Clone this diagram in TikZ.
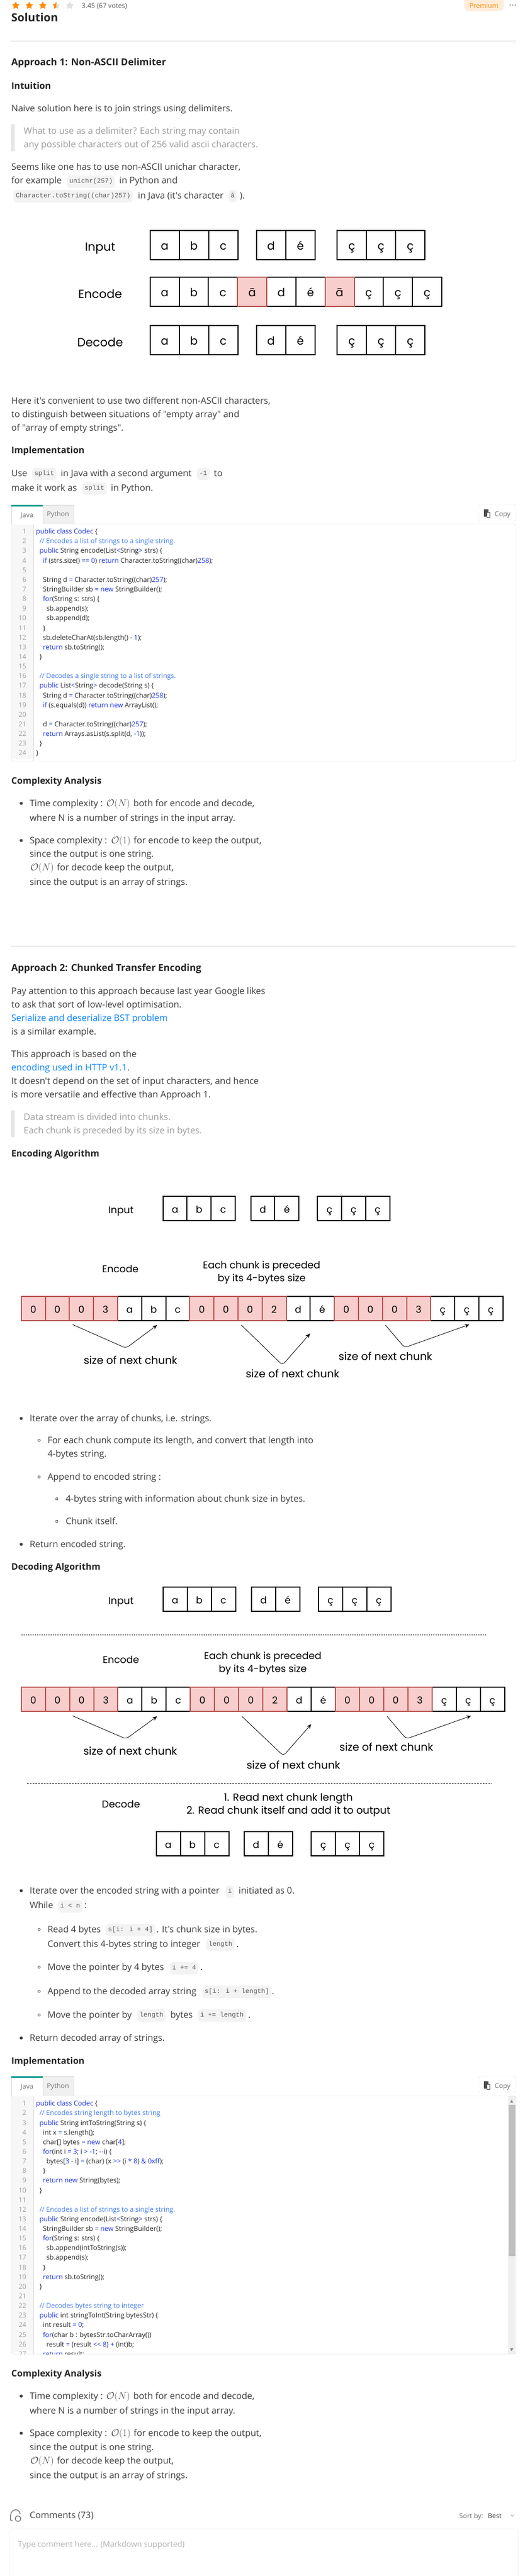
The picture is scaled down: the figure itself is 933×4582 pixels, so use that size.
\documentclass[tikz,border=0pt]{standalone}
\usepackage{fontspec}
\usetikzlibrary{arrows.meta,shapes.geometric}
\newfontfamily\bodyfont{Open Sans}
\newfontfamily\handfont{Poppins}
\newfontfamily\monofont{Liberation Mono}
\definecolor{bodygrey}{HTML}{3C3C3C}
\definecolor{headgrey}{HTML}{262626}
\definecolor{quotegrey}{HTML}{9A9A9A}
\definecolor{linkblue}{HTML}{0A84FF}
\definecolor{rulegrey}{HTML}{EEEEEE}
\definecolor{chipgrey}{HTML}{F3F3F3}
\definecolor{codekw}{HTML}{1C33E8}
\definecolor{codecm}{HTML}{3F7BF0}
\definecolor{numgrey}{HTML}{9E9E9E}
\definecolor{cellred}{HTML}{F8CECC}
\definecolor{edgered}{HTML}{B85450}
\definecolor{tabteal}{HTML}{1D9E94}
\newcommand{\kw}[1]{\textcolor{codekw}{#1}}
\newcommand{\cm}[1]{\textcolor{codecm}{#1}}
\tikzset{
  para/.style={anchor=base west,inner sep=0pt,yshift=-5pt,text=bodygrey,font=\fontsize{16}{24}\bodyfont},
  quoted/.style={para,text=quotegrey},
  linked/.style={para,text=linkblue},
  headone/.style={para,text=headgrey,font=\fontsize{20}{24}\bodyfont\bfseries},
  headtwo/.style={para,text=headgrey,font=\fontsize{17}{24}\bodyfont\bfseries},
  headthree/.style={para,text=headgrey,font=\fontsize{16}{24}\bodyfont\bfseries},
  chip/.style={anchor=west,fill=chipgrey,rounded corners=5pt,inner xsep=4pt,inner ysep=0pt,minimum height=22pt,text height=8pt,text depth=2.5pt,text=black!65,font=\fontsize{11.7}{14}\monofont},
  mathtxt/.style={anchor=base west,inner sep=0pt,yshift=-5pt,text=black!70,font=\fontsize{17}{20}\selectfont},
  cell/.style={draw=black,fill=white,line width=2pt,minimum width=52pt,minimum height=52pt,inner sep=0pt,text height=20pt,text depth=4pt,font=\fontsize{20}{24}\handfont},
  redcell/.style={cell,draw=edgered,fill=cellred},
  smallcell/.style={cell,minimum width=43pt,minimum height=43pt,text height=18pt,text depth=3pt,font=\fontsize{17}{20}\handfont},
  smallred/.style={smallcell,draw=edgered,fill=cellred},
  handbig/.style={inner sep=0pt,align=center,font=\fontsize{21}{25}\handfont},
  handmid/.style={inner sep=0pt,align=center,font=\fontsize{17.5}{23}\handfont},
  handsize/.style={handmid,font=\fontsize{19}{23}\handfont},
  elbow/.style={-{Stealth[length=8pt,width=7pt]},rounded corners=6pt,line width=.8pt},
  codeline/.style={anchor=base west,inner sep=0pt,yshift=-4pt,text=black!85,font=\fontsize{12}{14}\bodyfont},
  lineno/.style={anchor=base east,inner sep=0pt,yshift=-4pt,text=numgrey,font=\fontsize{12}{14}\bodyfont},
  tabtxt/.style={inner sep=0pt,text=black!55,font=\fontsize{12}{14}\bodyfont},
  ratingstar/.style={star,star points=5,star point ratio=2.2,minimum size=15pt,inner sep=0pt,rounded corners=1pt,fill=#1},
}
\begin{document}
\begin{tikzpicture}[x=1pt,y=-1pt]
    \useasboundingbox (0,0) rectangle (933,4582);
    \fill[white] (0,0) rectangle (933,4582);

    \foreach \x in {28,52,76}
        \node[ratingstar=orange!90!yellow] (star\x) at (\x,10) {};
    \node[ratingstar=black!12] (star100) at (100,10) {};
    \begin{scope}
        \clip (90,0) rectangle (100,20);
        \node[ratingstar=orange!90!yellow] (starhalf) at (100,10) {};
    \end{scope}
    \node[ratingstar=black!12] (star124) at (124,10) {};
    \node[para,text=black!65,font=\fontsize{12}{14}\bodyfont] (votes) at (145,10) {3.45 (67 votes)};
    \fill[orange!15,rounded corners=9pt] (825,-8) rectangle (895,20);
    \node[inner sep=0pt,text=orange!95!yellow,font=\fontsize{12}{14}\bodyfont] (premium) at (860,10) {Premium};
    \foreach \x in {906.5,911,915.5}
        \fill[black!60] (\x,9) circle (1pt);
    \node[headone] (solution) at (20,34) {Solution};
    \fill[rulegrey] (20,72) rectangle (917,75);

    \node[headtwo] (approachone) at (20,112) {Approach 1: Non-ASCII Delimiter};
    \node[headthree] (intuition) at (20,153) {Intuition};
    \node[para] (naive) at (20,193) {Naive solution here is to join strings using delimiters.};
    \fill[black!10] (20,221) rectangle (26,269);
    \node[quoted] (whatuse) at (42,233) {What to use as a delimiter? Each string may contain};
    \node[quoted] (anyposs) at (42,257) {any possible characters out of 256 valid ascii characters.};
    \node[para] (seems) at (20,297) {Seems like one has to use non-ASCII unichar character,};
    \node[para] (forex) at (20,321) {for example};
    \node[chip] (unichr) at (119,323) {unichr(257)};
    \node[para] (inpy) at (212,321) {in Python and};
    \node[chip] (tostr) at (24,349) {Character.toString((char)257)};
    \node[para] (injava) at (245,348) {in Java (it's character};
    \node[chip] (abar) at (406,349) {ā};
    \node[para] (closing) at (426,348) {).};

    \node[handbig] (inputone) at (178,442) {Input};
    \node[handbig] (encodeone) at (178,523) {Encode};
    \node[handbig] (decodeone) at (178,609) {Decode};
    \foreach \y/\r in {436/a,605/b}
        \foreach \gx/\g/\cs in {266.7/p/{a,b,c},455.7/q/{d,é},599.3/s/{ç,ç,ç}}
            \foreach \c [count=\i from 0] in \cs
                \node[cell] (cell\r\g\i) at ({\gx+26+52*\i},\y) {\c};
    \foreach \i/\c in {0/a,1/b,2/c,4/d,5/é,7/ç,8/ç,9/ç}
        \node[cell] (enc\i) at ({292.7+51.8*\i},519) {\c};
    \foreach \i in {3,6}
        \node[redcell] (enc\i) at ({292.7+51.8*\i},519) {ā};

    \node[para] (here) at (20,713) {Here it's convenient to use two different non-ASCII characters,};
    \node[para] (tell) at (20,737) {to distinguish between situations of "empty array" and};
    \node[para] (ofarr) at (20,761) {of "array of empty strings".};
    \node[headthree] (implone) at (20,801) {Implementation};
    \node[para] (use) at (20,842) {Use};
    \node[chip] (splitone) at (57,843) {split};
    \node[para] (injavatwo) at (108,842) {in Java with a second argument};
    \node[chip] (minusone) at (350,843) {-1};
    \node[para] (too) at (380,842) {to};
    \node[para] (makeit) at (20,868) {make it work as};
    \node[chip] (splittwo) at (146,869) {split};
    \node[para] (inpytwo) at (197,868) {in Python.};

    % first code panel
    \fill[black!3] (20,932) rectangle (59,1350);
    \draw[black!15] (59,932) -- (59,1354);
    \draw[black!15,rounded corners=4pt] (20,932) -- (20,1354) -- (917,1354) -- (917,932) -- cycle;
    \fill[white] (20,898) rectangle (76,933);
    \draw[black!15] (20,932) -- (20,898);
    \draw[black!15,fill=black!6] (76,932) -- (76,898) -- (131,898) -- (131,932);
    \fill[tabteal] (20,898) rectangle (76,900.5);
    \node[tabtxt] (javaone) at (48,917) {Java};
    \node[tabtxt] (pythonone) at (103,915) {Python};
    \draw[black!12,rounded corners=3pt] (851,897) rectangle (917,927);
    \fill[black!70] (860,906) rectangle (868,919);
    \fill[white] (865,911) rectangle (870,920);
    \draw[black!70] (865,911) rectangle (870,920);
    \node[para,text=black!55,font=\fontsize{12}{14}\bodyfont] (copyone) at (879,913) {Copy};
    \foreach \n in {1,...,24}
        \node[lineno] (numa\n) at (47,{945.7+17.14*(\n-1)}) {\n};
    \foreach \n/\ind/\t in {
        1/0/{\kw{public class Codec} \{},
        2/1/{\cm{// Encodes a list of strings to a single string.}},
        3/1/{\kw{public} String encode(List\kw{<}String\kw{>} strs) \{},
        4/2/{\kw{if} (strs.size() \kw{==} \kw{0}) \kw{return} Character.toString((char)\kw{258});},
        6/2/{String d \kw{=} Character.toString((char)\kw{257});},
        7/2/{StringBuilder sb \kw{=} \kw{new} StringBuilder();},
        8/2/{\kw{for}(String s: strs) \{},
        9/3/{sb.append(s);},
        10/3/{sb.append(d);},
        11/2/{\}},
        12/2/{sb.deleteCharAt(sb.length() - \kw{1});},
        13/2/{\kw{return} sb.toString();},
        14/1/{\}},
        16/1/{\cm{// Decodes a single string to a list of strings.}},
        17/1/{\kw{public} List\kw{<}String\kw{>} decode(String s) \{},
        18/2/{String d \kw{=} Character.toString((char)\kw{258});},
        19/2/{\kw{if} (s.equals(d)) \kw{return} \kw{new} ArrayList();},
        21/2/{d \kw{=} Character.toString((char)\kw{257});},
        22/2/{\kw{return} Arrays.asList(s.split(d, \kw{-1}));},
        23/1/{\}},
        24/0/{\}}}
        \node[codeline] (codea\n) at ({64+6.1*\ind},{945.7+17.14*(\n-1)}) {\t};

    \node[headthree] (complexone) at (20,1389) {Complexity Analysis};
    \foreach \y in {1429,1495,2523,2747,3363,3625,4262,4328}
        \fill[bodygrey] (37.7,\y) circle (2.7pt);
    \node[para] (timeone) at (52.6,1429) {Time complexity :};
    \node[mathtxt] (timeoneo) at (189,1429) {$\mathcal{O}(N)$};
    \node[para] (timeonerest) at (236.8,1429) {both for encode and decode,};
    \node[para] (whereone) at (52.6,1455) {where N is a number of strings in the input array.};
    \node[para] (spaceone) at (52.6,1495) {Space complexity :};
    \node[mathtxt] (spaceoneo) at (197.4,1495) {$\mathcal{O}(1)$};
    \node[para] (spaceonerest) at (237.4,1495) {for encode to keep the output,};
    \node[para] (sinceone) at (52.6,1519) {since the output is one string.};
    \node[mathtxt] (spaceonen) at (53.8,1543) {$\mathcal{O}(N)$};
    \node[para] (decodeonetxt) at (101,1543) {for decode keep the output,};
    \node[para] (sincetwo) at (52.6,1569) {since the output is an array of strings.};

    \fill[rulegrey] (20,1681.5) rectangle (917,1684.5);
    \node[headtwo] (approachtwo) at (20,1722) {Approach 2: Chunked Transfer Encoding};
    \node[para] (pay) at (20,1763) {Pay attention to this approach because last year Google likes};
    \node[para] (toask) at (20,1787) {to ask that sort of low-level optimisation.};
    \node[linked] (serial) at (20,1811) {Serialize and deserialize BST problem};
    \node[para] (similar) at (20,1835) {is a similar example.};
    \node[para] (thisapp) at (20,1875) {This approach is based on the};
    \node[linked] (httplink) at (20,1899) {encoding used in HTTP v1.1};
    \node[para] (httpdot) at (226,1899) {.};
    \node[para] (doesnt) at (20,1923) {It doesn't depend on the set of input characters, and hence};
    \node[para] (versatile) at (20,1947) {is more versatile and effective than Approach 1.};
    \fill[black!10] (20,1975) rectangle (26,2023);
    \node[quoted] (datastream) at (42,1987) {Data stream is divided into chunks.};
    \node[quoted] (eachsize) at (42,2011) {Each chunk is preceded by its size in bytes.};
    \node[headthree] (encalgo) at (20,2052) {Encoding Algorithm};

    \node[handmid] (inputtwo) at (215,2155) {Input};
    \foreach \gx/\g/\cs in {289.5/p/{a,b,c},445.6/q/{d,é},564/s/{ç,ç,ç}}
        \foreach \c [count=\i from 0] in \cs
            \node[smallcell] (cellc\g\i) at ({\gx+21.5+42.8*\i},2149.5) {\c};
    \node[handmid] (encodetwo) at (214,2257) {Encode};
    \node[handmid] (precedeone) at (465,2263.5) {Each chunk is preceded\\by its 4-bytes size};
    \foreach \i/\c in {4/a,5/b,6/c,11/d,12/é,17/ç,18/ç,19/ç}
        \node[smallcell,minimum width=42.8pt] (rowa\i) at ({59.1+42.8*\i},2327.5) {\c};
    \foreach \i/\c in {0/0,1/0,2/0,3/3,7/0,8/0,9/0,10/2,13/0,14/0,15/0,16/3}
        \node[smallred,minimum width=42.8pt] (rowa\i) at ({59.1+42.8*\i},2327.5) {\c};
    \coordinate (froma) at (129,2356);
    \coordinate (bota) at (224,2398);
    \coordinate (toa) at (279,2357);
    \coordinate (fromb) at (429,2357);
    \coordinate (botb) at (502,2428);
    \coordinate (tob) at (551,2372);
    \coordinate (fromc) at (685,2357);
    \coordinate (botc) at (719,2397);
    \coordinate (toc) at (834,2356);
    \draw[elbow] (froma) -- (bota) -- (toa);
    \draw[elbow] (fromb) -- (botb) -- (tob);
    \draw[elbow] (fromc) -- (botc) -- (toc);
    \node[handsize] (sizea) at (232,2419) {size of next chunk};
    \node[handsize] (sizeb) at (520,2443) {size of next chunk};
    \node[handsize] (sizec) at (685,2412) {size of next chunk};

    \foreach \y/\x in {2562/69.4,2627/69.4,2666/101,2706/101,3432/69.4,3499/69.4,3542/69.4,3584/69.4}
        \draw[bodygrey,line width=.7pt] (\x,\y) circle (2.1pt);
    \node[para] (iterate) at (52.6,2523) {Iterate over the array of chunks, i.e. strings.};
    \node[para] (foreach) at (84.3,2562) {For each chunk compute its length, and convert that length into};
    \node[para] (fourbytes) at (84.3,2586) {4-bytes string.};
    \node[para] (appendenc) at (84.3,2627) {Append to encoded string :};
    \node[para] (fourinfo) at (116.6,2666) {4-bytes string with information about chunk size in bytes.};
    \node[para] (chunkself) at (116.6,2706) {Chunk itself.};
    \node[para] (returnenc) at (52.6,2747) {Return encoded string.};
    \node[headthree] (decalgo) at (20,2787) {Decoding Algorithm};

    \node[handmid] (inputthree) at (215,2850) {Input};
    \foreach \gx/\g/\cs in {289.5/p/{a,b,c},446.8/q/{d,é},565.8/s/{ç,ç,ç}}
        \foreach \c [count=\i from 0] in \cs
            \node[smallcell] (celld\g\i) at ({\gx+21.5+43*\i},2844.5) {\c};
    \coordinate (dotsl) at (37.7,2908);
    \coordinate (dotsr) at (864,2908);
    \draw[black!60,line width=2pt,dash pattern=on 2pt off 2pt] (dotsl) -- (dotsr);
    \node[handmid] (encodethree) at (215,2952) {Encode};
    \node[handmid] (precedetwo) at (467,2958.5) {Each chunk is preceded\\by its 4-bytes size};
    \foreach \i/\c in {4/a,5/b,6/c,11/d,12/é,17/ç,18/ç,19/ç}
        \node[smallcell,minimum width=42.94pt] (rowb\i) at ({59.2+42.94*\i},3022.5) {\c};
    \foreach \i/\c in {0/0,1/0,2/0,3/3,7/0,8/0,9/0,10/2,13/0,14/0,15/0,16/3}
        \node[smallred,minimum width=42.94pt] (rowb\i) at ({59.2+42.94*\i},3022.5) {\c};
    \coordinate (fromd) at (129,3052);
    \coordinate (botd) at (224,3093);
    \coordinate (tod) at (279,3053);
    \coordinate (frome) at (430,3053);
    \coordinate (bote) at (503.6,3123);
    \coordinate (toe) at (553,3067);
    \coordinate (fromf) at (688,3053);
    \coordinate (botf) at (722,3093);
    \coordinate (tof) at (837,3052);
    \draw[elbow] (fromd) -- (botd) -- (tod);
    \draw[elbow] (frome) -- (bote) -- (toe);
    \draw[elbow] (fromf) -- (botf) -- (tof);
    \node[handsize] (sized) at (231.5,3114) {size of next chunk};
    \node[handsize] (sizee) at (521.5,3139) {size of next chunk};
    \node[handsize] (sizef) at (686.6,3107) {size of next chunk};
    \coordinate (dashl) at (48,3172);
    \coordinate (dashr) at (874,3172);
    \draw[black,line width=.8pt,dash pattern=on 3pt off 2pt] (dashl) -- (dashr);
    \node[handmid] (decodethree) at (215,3209) {Decode};
    \node[handmid,font=\fontsize{18.2}{23}\handfont] (readnext) at (512.5,3210.5) {1. Read next chunk length\\2. Read chunk itself and add it to output};
    \foreach \gx/\g/\cs in {277.5/p/{a,b,c},433.6/q/{d,é},553/s/{ç,ç,ç}}
        \foreach \c [count=\i from 0] in \cs
            \node[smallcell] (celle\g\i) at ({\gx+21.5+43*\i},3279.5) {\c};

    \node[para] (iterdec) at (52.6,3363) {Iterate over the encoded string with a pointer};
    \node[chip] (ptr) at (401,3365) {i};
    \node[para] (initiated) at (424,3363) {initiated as 0.};
    \node[para] (whiletxt) at (52.6,3389) {While};
    \node[chip] (iltn) at (103,3391) {i < n};
    \node[para] (colon) at (149.5,3389) {:};
    \node[para] (readfour) at (84.3,3432) {Read 4 bytes};
    \node[chip] (sliceone) at (188,3433) {s[i: i + 4]};
    \node[para] (chunksize) at (278,3432) {. It's chunk size in bytes.};
    \node[para] (convert) at (84.3,3458) {Convert this 4-bytes string to integer};
    \node[chip] (lenone) at (366.6,3459) {length};
    \node[para] (dotone) at (420,3458) {.};
    \node[para] (moveone) at (84.3,3499) {Move the pointer by 4 bytes};
    \node[chip] (incone) at (302,3501) {i += 4};
    \node[para] (dottwo) at (356,3499) {.};
    \node[para] (appenddec) at (84.3,3542) {Append to the decoded array string};
    \node[chip] (slicetwo) at (359.5,3543) {s[i: i + length]};
    \node[para] (dotthree) at (483,3542) {.};
    \node[para] (movetwo) at (84.3,3584) {Move the pointer by};
    \node[chip] (lentwo) at (244,3585) {length};
    \node[para] (bytestxt) at (302.6,3584) {bytes};
    \node[chip] (inctwo) at (351.7,3585) {i += length};
    \node[para] (dotfour) at (441,3584) {.};
    \node[para] (returndec) at (52.6,3625) {Return decoded array of strings.};
    \node[headthree] (impltwo) at (20,3666) {Implementation};

    % second code panel
    \fill[black!3] (20,3728) rectangle (59,4183);
    \draw[black!15] (59,3728) -- (59,4187);
    \fill[white] (20,3693) rectangle (76,3729);
    \draw[black!15] (20,3728) -- (20,3693);
    \draw[black!15,fill=black!6] (76,3728) -- (76,3693) -- (131,3693) -- (131,3728);
    \fill[tabteal] (20,3693) rectangle (76,3695.5);
    \node[tabtxt] (javatwo) at (48,3712) {Java};
    \node[tabtxt] (pythontwo) at (103,3711) {Python};
    \draw[black!12,rounded corners=3pt] (851,3693) rectangle (917,3722);
    \fill[black!70] (860,3702) rectangle (868,3715);
    \fill[white] (865,3707) rectangle (870,3716);
    \draw[black!70] (865,3707) rectangle (870,3716);
    \node[para,text=black!55,font=\fontsize{12}{14}\bodyfont] (copytwo) at (879,3709) {Copy};
    \begin{scope}
        \clip (20,3728) rectangle (903,4187);
        \foreach \n in {1,...,27}
            \node[lineno] (numb\n) at (47,{3741.7+17.14*(\n-1)}) {\n};
        \foreach \n/\ind/\t in {
            1/0/{\kw{public class Codec} \{},
            2/1/{\cm{// Encodes string length to bytes string}},
            3/1/{\kw{public} String intToString(String s) \{},
            4/2/{int x \kw{=} s.length();},
            5/2/{char[] bytes \kw{=} \kw{new} char[\kw{4}];},
            6/2/{\kw{for}(int i \kw{=} \kw{3}; i \kw{>} \kw{-1}; \kw{--}i) \{},
            7/3/{bytes[\kw{3} - i] \kw{=} (char) (x \kw{>>} (i \kw{*} \kw{8}) \kw{\& 0xff});},
            8/2/{\}},
            9/2/{\kw{return} \kw{new} String(bytes);},
            10/1/{\}},
            12/1/{\cm{// Encodes a list of strings to a single string.}},
            13/1/{\kw{public} String encode(List\kw{<}String\kw{>} strs) \{},
            14/2/{StringBuilder sb \kw{=} \kw{new} StringBuilder();},
            15/2/{\kw{for}(String s: strs) \{},
            16/3/{sb.append(intToString(s));},
            17/3/{sb.append(s);},
            18/2/{\}},
            19/2/{\kw{return} sb.toString();},
            20/1/{\}},
            22/1/{\cm{// Decodes bytes string to integer}},
            23/1/{\kw{public} int stringToInt(String bytesStr) \{},
            24/2/{int result \kw{=} \kw{0};},
            25/2/{\kw{for}(char b : bytesStr.toCharArray())},
            26/3/{result \kw{=} (result \kw{<<} \kw{8}) \kw{+} (int)b;},
            27/2/{\kw{return} result;}}
            \node[codeline] (codeb\n) at ({64+6.1*\ind},{3741.7+17.14*(\n-1)}) {\t};
    \end{scope}
    \fill[black!6] (903,3728) rectangle (916,4187);
    \fill[black!25] (903.5,3744) rectangle (915.5,4013);
    \fill[black!50] (909.2,3735) -- (912,3740) -- (906.4,3740) -- cycle;
    \fill[black!50] (906.4,4177) -- (912,4177) -- (909.2,4182) -- cycle;
    \draw[black!15,rounded corners=4pt] (20,3728) -- (20,4187) -- (917,4187) -- (917,3728) -- cycle;

    \node[headthree] (complextwo) at (20,4222) {Complexity Analysis};
    \node[para] (timetwo) at (52.6,4262) {Time complexity :};
    \node[mathtxt] (timetwoo) at (189,4262) {$\mathcal{O}(N)$};
    \node[para] (timetworest) at (236.8,4262) {both for encode and decode,};
    \node[para] (wheretwo) at (52.6,4288) {where N is a number of strings in the input array.};
    \node[para] (spacetwo) at (52.6,4328) {Space complexity :};
    \node[mathtxt] (spacetwoo) at (197.4,4328) {$\mathcal{O}(1)$};
    \node[para] (spacetworest) at (237.4,4328) {for encode to keep the output,};
    \node[para] (sincethree) at (52.6,4353) {since the output is one string.};
    \node[mathtxt] (spacetwon) at (53.8,4377) {$\mathcal{O}(N)$};
    \node[para] (decodetwotxt) at (101,4377) {for decode keep the output,};
    \node[para] (sincefour) at (52.6,4403) {since the output is an array of strings.};

    \draw[black!60,line width=1.2pt] (22,4483) -- (19,4483) .. controls (17,4470) and (22,4464) .. (28,4464) .. controls (32,4464) and (35,4467) .. (36,4472);
    \draw[black!60,line width=1.2pt] (32,4480) circle (5pt);
    \node[para,font=\fontsize{16}{18}\bodyfont] (comments) at (52.6,4474) {Comments (73)};
    \node[para,text=black!55,font=\fontsize{12}{14}\bodyfont] (sortby) at (816,4474) {Sort by:};
    \node[para,font=\fontsize{12}{14}\bodyfont] (best) at (867,4474) {Best};
    \draw[black!60] (908,4473) -- (910.5,4476) -- (913,4473);
    \draw[black!4,line width=1pt,rounded corners=8pt] (16.7,4600) -- (16.7,4498) -- (921,4498) -- (921,4600);
    \node[para,text=black!30,font=\fontsize{14}{18}\bodyfont] (placeholder) at (32,4525) {Type comment here... (Markdown supported)};
\end{tikzpicture}
\end{document}
